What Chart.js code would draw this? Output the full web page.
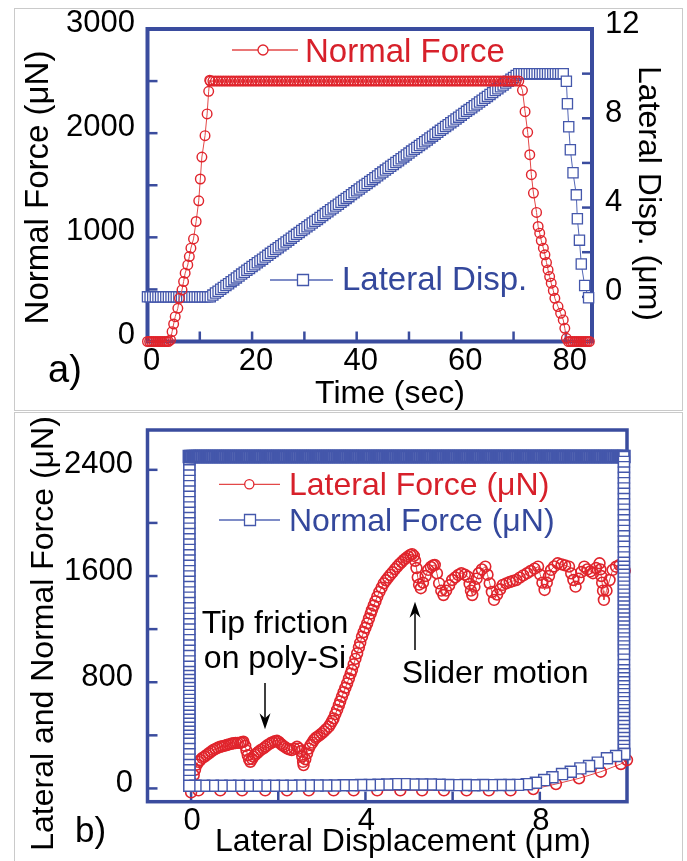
<!DOCTYPE html>
<html><head><meta charset="utf-8">
<script src="https://cdn.jsdelivr.net/npm/chart.js@4.4.1/dist/chart.umd.min.js"></script>
<style>
html,body{margin:0;padding:0;background:#fff;}
body{width:687px;height:861px;position:relative;overflow:hidden;}
.box{position:absolute;border:1.5px solid #cacaca;box-sizing:border-box;}
canvas{position:absolute;left:0;}
</style></head><body>
<div class="box" style="left:14px;top:8px;width:669px;height:403px"></div>
<div class="box" style="left:14px;top:412px;width:669px;height:460px"></div>
<canvas id="ca" width="687" height="411" style="top:0"></canvas>
<canvas id="cb" width="687" height="450" style="top:411px"></canvas>
<script>
// ---------------- Panel a data ----------------
const aXTicks = [0,10,20,30,40,50,60,70,80];
const aXLabels = [0,20,40,60,80];
const aYTicks = [0,500,1000,1500,2000,2500,3000];
const aYLabels = [0,1000,2000,3000];
const aY2Ticks = [0,2,4,6,8,10,12];
const aY2Labels = [0,4,8,12];

const aNfRiseTime = [0,0.4,0.8,1.2,1.6,2.0,2.4,2.8,3.2,3.6,4.0,4.4,4.7,5.0,5.3,5.8,6.1,6.6,6.9,7.2,7.7,8.0,8.3,8.8,9.3,9.8,10.1,10.4,11.0,11.4,11.7,11.9];
const aNfRiseForce = [0,0,0,0,0,0,0,0,0,0,0,15,94,168,238,319,415,495,575,656,735,815,896,985,1152,1351,1560,1771,1976,2185,2402,2508];
const aHoldTime = [12,12.5,13,13.5,14,14.5,15,15.5,16,16.5,17,17.5,18,18.5,19,19.5,20,20.5,21,21.5,22,22.5,23,23.5,24,24.5,25,25.5,26,26.5,27,27.5,28,28.5,29,29.5,30,30.5,31,31.5,32,32.5,33,33.5,34,34.5,35,35.5,36,36.5,37,37.5,38,38.5,39,39.5,40,40.5,41,41.5,42,42.5,43,43.5,44,44.5,45,45.5,46,46.5,47,47.5,48,48.5,49,49.5,50,50.5,51,51.5,52,52.5,53,53.5,54,54.5,55,55.5,56,56.5,57,57.5,58,58.5,59,59.5,60,60.5,61,61.5,62,62.5,63,63.5,64,64.5,65,65.5,66,66.5,67,67.5,68,68.5,69,69.5,70,70.5,71];
const aNfHoldForce = 2500;
const aNfFallTime = [71.7,72.2,72.7,73.1,73.4,73.8,74.4,74.7,75.0,75.3,75.7,76.0,76.3,76.6,76.9,77.2,77.6,77.9,78.5,79.0,79.5,79.8,80.1,80.5,80.9,81.3,81.7,82.1,82.5,82.9,83.3,83.7,84.1,84.5];
const aNfFallForce = [2411,2206,2008,1793,1601,1425,1239,1104,1040,969,896,832,758,687,623,560,489,415,335,271,207,127,31,0,0,0,0,0,0,0,0,0,0,0];

const aLdFlatTime = [0,0.5,1,1.5,2,2.5,3,3.5,4,4.5,5,5.5,6,6.5,7,7.5,8,8.5,9,9.5,10,10.5,11,11.5];
const aLdFlatDisp = 0;
const aLdRampDisp = [0,0.08,0.17,0.25,0.34,0.42,0.51,0.59,0.68,0.76,0.85,0.93,1.02,1.1,1.19,1.27,1.36,1.44,1.53,1.61,1.69,1.78,1.86,1.95,2.03,2.12,2.2,2.29,2.37,2.46,2.54,2.63,2.71,2.8,2.88,2.97,3.05,3.14,3.22,3.31,3.39,3.47,3.56,3.64,3.73,3.81,3.9,3.98,4.07,4.15,4.24,4.32,4.41,4.49,4.58,4.66,4.75,4.83,4.92,5,5.08,5.17,5.25,5.34,5.42,5.51,5.59,5.68,5.76,5.85,5.93,6.02,6.1,6.19,6.27,6.36,6.44,6.53,6.61,6.69,6.78,6.86,6.95,7.03,7.12,7.2,7.29,7.37,7.46,7.54,7.63,7.71,7.8,7.88,7.97,8.05,8.14,8.22,8.31,8.39,8.47,8.56,8.64,8.73,8.81,8.9,8.98,9.07,9.15,9.24,9.32,9.41,9.49,9.58,9.66,9.75,9.83,9.92,10];
const aLdTopTime = [71.5,72,72.5,73,73.5,74,74.5,75,75.5,76,76.5,77,77.5,78,78.5,79,79.5];
const aLdTopDisp = 10;
const aLdDropTime = [80.1,80.3,80.55,80.86,81.37,82.0,82.2,82.6,82.95,83.6,84.35];
const aLdDropDisp = [9.66,8.65,7.62,6.59,5.56,4.57,3.5,2.54,1.47,0.51,-0.04];

// ---------------- Panel b data ----------------
const bXTicks = [0,2,4,6,8];
const bXLabels = [0,4,8];
const bYTicks = [0,400,800,1200,1600,2000,2400];
const bYLabels = [0,800,1600,2400];

// Lateral force (red): initial friction, loading ramp, slider stick-slip, return
const bLfX1 = [0.00,0.03,0.06,0.09,0.13,0.17,0.21,0.26,0.31,0.36,0.41,0.46,0.51,0.56,0.61,0.67,0.72,0.77,0.82,0.87,0.92,0.97,1.02,1.07,1.13,1.17,1.20,1.24,1.27,1.30,1.33,1.36,1.40,1.43,1.47,1.51,1.55,1.60,1.66,1.71,1.76,1.82,1.87,1.92,1.97,2.01,2.05,2.09,2.14,2.20,2.25,2.31,2.37,2.43,2.48,2.52,2.55,2.57,2.58,2.62,2.66,2.70];
const bLfF1 = [-30,40,100,140,180,200,214,230,240,252,265,278,289,298,306,314,318,322,327,332,336,340,342,343,344,348,352,320,285,250,220,201,222,239,252,265,277,290,302,315,328,340,348,355,359,350,338,327,315,302,295,289,300,314,300,280,240,200,176,220,264,300];
const bLfX2 = [2.74,2.78,2.82,2.86,2.90,2.95,3.00,3.05,3.10,3.16,3.20,3.24,3.27,3.31,3.35,3.39,3.42,3.46,3.50,3.54,3.58,3.62,3.66,3.69,3.73,3.77,3.81,3.85,3.88,3.92,3.96,4.00,4.04,4.08,4.12,4.15,4.19,4.23,4.27,4.32,4.37,4.42,4.47,4.52,4.57,4.62,4.68,4.73,4.78,4.83,4.88,4.93,4.98,5.03,5.07,5.11,5.14,5.17,5.20,5.23];
const bLfF2 = [327,345,365,380,390,402,415,430,446,465,487,508,528,560,591,627,655,691,725,758,792,828,865,892,935,976,1018,1063,1097,1143,1178,1210,1244,1280,1317,1344,1378,1410,1444,1480,1512,1545,1568,1588,1608,1628,1652,1671,1689,1705,1721,1734,1748,1759,1765,1752,1715,1660,1590,1535];
const bLfX3 = [5.27,5.32,5.38,5.44,5.50,5.55,5.59,5.64,5.69,5.74,5.79,5.85,5.92,5.99,6.06,6.13,6.20,6.28,6.35,6.39,6.42,6.45,6.50,6.55,6.60,6.67,6.75,6.80,6.85,6.90,6.95,7.02,7.09,7.15,7.23,7.31,7.38,7.46,7.54,7.62,7.71,7.79,7.88,7.96,8.01,8.06,8.11,8.16,8.21,8.26,8.33,8.41,8.50,8.58,8.67,8.72,8.77,8.82,8.89,8.95,9.02,9.09,9.16,9.22,9.29,9.37,9.39,9.41,9.43,9.45,9.47,9.53,9.60,9.67,9.75,9.83,9.90,9.95];
const bLfF3 = [1508,1550,1600,1646,1668,1680,1683,1620,1545,1490,1457,1490,1530,1570,1590,1608,1621,1610,1595,1540,1490,1457,1520,1580,1621,1650,1671,1610,1545,1480,1420,1460,1500,1533,1545,1555,1562,1570,1588,1605,1621,1638,1655,1671,1610,1550,1495,1550,1600,1646,1672,1696,1688,1680,1671,1620,1570,1520,1580,1630,1671,1650,1635,1621,1660,1696,1650,1600,1550,1490,1420,1490,1570,1646,1670,1683,1660,1640];
const bLfX4 = [10.0,9.86,9.40,8.90,8.37,7.85,7.33,6.83,6.32,5.80,5.30,4.80,4.27,3.73,3.27,2.70,2.20,1.70,1.17,0.67,0.17];
const bLfF4 = [214,184,126,76,33,-5,-15,-15,-15,-15,-15,-15,-15,-15,-15,-15,-15,-15,-15,-15,-15];

// Normal force (blue): loading at x=0, hold while sliding, unloading at x=10, return
const bNfUpX = -0.04;
const bNfUpF = [20,60,100,140,180,220,260,300,340,380,420,450,480,510,540,570,600,630,660,690,720,750,780,810,840,870,900,930,960,1000,1040,1080,1120,1160,1200,1240,1280,1320,1360,1400,1440,1480,1520,1560,1600,1640,1680,1720,1760,1800,1840,1880,1920,1960,2000,2040,2080,2120,2160,2200,2240,2280,2320,2360,2400,2440,2480,2500];
const bNfHoldF = 2500;
const bNfHoldX = [0,0.05,0.1,0.15,0.2,0.25,0.3,0.35,0.4,0.45,0.5,0.55,0.6,0.65,0.7,0.75,0.8,0.85,0.9,0.95,
1,1.05,1.1,1.15,1.2,1.25,1.3,1.35,1.4,1.45,1.5,1.55,1.6,1.65,1.7,1.75,1.8,1.85,1.9,1.95,
2,2.05,2.1,2.15,2.2,2.25,2.3,2.35,2.4,2.45,2.5,2.55,2.6,2.65,2.7,2.75,2.8,2.85,2.9,2.95,
3,3.05,3.1,3.15,3.2,3.25,3.3,3.35,3.4,3.45,3.5,3.55,3.6,3.65,3.7,3.75,3.8,3.85,3.9,3.95,
4,4.05,4.1,4.15,4.2,4.25,4.3,4.35,4.4,4.45,4.5,4.55,4.6,4.65,4.7,4.75,4.8,4.85,4.9,4.95,
5,5.05,5.1,5.15,5.2,5.25,5.3,5.35,5.4,5.45,5.5,5.55,5.6,5.65,5.7,5.75,5.8,5.85,5.9,5.95,
6,6.05,6.1,6.15,6.2,6.25,6.3,6.35,6.4,6.45,6.5,6.55,6.6,6.65,6.7,6.75,6.8,6.85,6.9,6.95,
7,7.05,7.1,7.15,7.2,7.25,7.3,7.35,7.4,7.45,7.5,7.55,7.6,7.65,7.7,7.75,7.8,7.85,7.9,7.95,
8,8.05,8.1,8.15,8.2,8.25,8.3,8.35,8.4,8.45,8.5,8.55,8.6,8.65,8.7,8.75,8.8,8.85,8.9,8.95,
9,9.05,9.1,9.15,9.2,9.25,9.3,9.35,9.4,9.45,9.5,9.55,9.6,9.65,9.7,9.75,9.8,9.85,9.9];
const bNfDownX = 9.93;
const bNfDownF = [2500,2460,2420,2380,2340,2300,2260,2220,2180,2140,2100,2060,2020,1980,1940,1900,1860,1820,1780,1740,1700,1670,1640,1610,1580,1550,1520,1490,1460,1430,1400,1370,1340,1310,1280,1250,1220,1190,1160,1130,1100,1070,1040,1010,970,930,890,860,830,800,770,740,710,680,650,620,590,560,530,500,470,440,410,380,350,320,290,260];
const bNfBackX = [9.94,9.75,9.54,9.33,9.13,8.93,8.71,8.51,8.29,8.10,7.91,7.70,7.50,7.30,7.10,6.90,6.70,6.50,6.30,6.10,5.90,5.70,5.50,5.30,5.10,4.90,4.70,4.50,4.30,4.10,3.90,3.70,3.50,3.30,3.10,2.90,2.70,2.50,2.30,2.10,1.90,1.70,1.50,1.30,1.10,0.90,0.70,0.50,0.30,0.10,-0.04];
const bNfBackF = [259,244,227,194,169,151,126,108,84,63,43,32,27,26,26,25,26,24,26,25,26,28,30,30,30,32,32,30,28,26,26,24,24,22,22,22,22,22,20,20,20,20,20,20,20,20,20,20,20,20,20];

// ---------------- styling ----------------
const FONT = '"Liberation Sans", Arial, Helvetica, sans-serif';
const FRAME = '#3a4c9e';
const RED = '#e0242c';
const RED_LINE = '#e34848';
const RED_TXT = '#d7202a';
const BLUE = '#4457ab';
const BLUE_LINE = '#5366b5';
const BLUE_TXT = '#34489c';

function pts(xs, ys) {
  const n = Array.isArray(xs) ? xs.length : ys.length;
  const out = [];
  for (let i = 0; i < n; i++) {
    out.push({ x: Array.isArray(xs) ? xs[i] : xs, y: Array.isArray(ys) ? ys[i] : ys });
  }
  return out;
}

function text(ctx, s, x, y, o) {
  ctx.save();
  ctx.font = o.size + 'px ' + FONT;
  ctx.fillStyle = o.color || '#000';
  ctx.textAlign = o.align || 'left';
  ctx.textBaseline = 'alphabetic';
  ctx.translate(x, y);
  if (o.rot) ctx.rotate(o.rot * Math.PI / 180);
  ctx.fillText(s, 0, 0);
  ctx.restore();
}
function hline(ctx, x1, x2, y, color, w) {
  ctx.save(); ctx.strokeStyle = color; ctx.lineWidth = w;
  ctx.beginPath(); ctx.moveTo(x1, y); ctx.lineTo(x2, y); ctx.stroke(); ctx.restore();
}
function circle(ctx, x, y, r, color, w) {
  ctx.save(); ctx.strokeStyle = color; ctx.lineWidth = w; ctx.fillStyle = '#fff';
  ctx.beginPath(); ctx.arc(x, y, r, 0, Math.PI * 2); ctx.fill(); ctx.stroke(); ctx.restore();
}
function square(ctx, x, y, side, color, w) {
  ctx.save(); ctx.strokeStyle = color; ctx.lineWidth = w; ctx.fillStyle = '#fff';
  ctx.beginPath(); ctx.rect(x - side / 2, y - side / 2, side, side); ctx.fill(); ctx.stroke(); ctx.restore();
}
function arrow(ctx, x, yFrom, yTip) {
  const dir = yTip > yFrom ? 1 : -1;
  ctx.save(); ctx.strokeStyle = '#000'; ctx.fillStyle = '#000'; ctx.lineWidth = 1.5;
  ctx.beginPath(); ctx.moveTo(x, yFrom); ctx.lineTo(x, yTip - dir * 8); ctx.stroke();
  ctx.beginPath(); ctx.moveTo(x, yTip); ctx.lineTo(x - 5.5, yTip - dir * 16); ctx.lineTo(x, yTip - dir * 11); ctx.lineTo(x + 5.5, yTip - dir * 16); ctx.closePath(); ctx.fill();
  ctx.restore();
}

function decor(name, tickAxes, frameWidth, draw) {
  return {
    id: 'decor' + name,
    beforeDatasetsDraw(chart) {
      const ctx = chart.ctx, a = chart.chartArea;
      ctx.save();
      ctx.strokeStyle = FRAME;
      ctx.lineWidth = 2.5;
      tickAxes.forEach(([id, side]) => {
        const s = chart.scales[id];
        s.ticks.forEach(t => {
          const v = t.value;
          if (v <= s.min || v >= s.max) return;
          const p = s.getPixelForValue(v);
          ctx.beginPath();
          if (side === 'left') { ctx.moveTo(a.left, p); ctx.lineTo(a.left + 10, p); }
          else if (side === 'right') { ctx.moveTo(a.right, p); ctx.lineTo(a.right - 10, p); }
          else { ctx.moveTo(p, a.bottom); ctx.lineTo(p, a.bottom - 10); }
          ctx.stroke();
        });
      });
      ctx.lineWidth = frameWidth;
      ctx.strokeRect(a.left, a.top, a.right - a.left, a.bottom - a.top);
      ctx.restore();
    },
    afterDraw(chart) { draw(chart.ctx); }
  };
}

function axis(opts) {
  return {
    type: 'linear', position: opts.position, min: opts.min, max: opts.max,
    grid: { display: false, drawTicks: false }, border: { display: false },
    afterBuildTicks: s => { s.ticks = opts.ticks.map(v => ({ value: v })); },
    afterFit: s => {
      if (opts.width !== undefined) s.width = opts.width;
      if (opts.height !== undefined) s.height = opts.height;
      s.paddingTop = 0; s.paddingBottom = 0; s.paddingLeft = 0; s.paddingRight = 0;
    },
    ticks: {
      autoSkip: false, maxRotation: 0, minRotation: 0,
      padding: opts.padding, labelOffset: opts.labelOffset,
      color: '#000', font: { family: FONT, size: 31 },
      callback: v => opts.labels.includes(v) ? String(v) : ''
    }
  };
}

// ---------------- Panel a chart ----------------
const aRed = pts(aNfRiseTime, aNfRiseForce).concat(pts(aHoldTime, aNfHoldForce), pts(aNfFallTime, aNfFallForce));
const aBlue = pts(aLdFlatTime, aLdFlatDisp).concat(pts(aHoldTime, aLdRampDisp), pts(aLdTopTime, aLdTopDisp), pts(aLdDropTime, aLdDropDisp));

new Chart(document.getElementById('ca'), {
  type: 'line',
  data: { datasets: [
    { label: 'Normal Force', data: aRed, yAxisID: 'y', borderColor: RED_LINE, borderWidth: 1,
      pointStyle: 'circle', pointRadius: 4.8, pointBorderWidth: 1.4, pointBorderColor: RED,
      pointBackgroundColor: 'rgba(255,255,255,0)', tension: 0, clip: false, order: 0 },
    { label: 'Lateral Disp.', data: aBlue, yAxisID: 'y2', borderColor: BLUE_LINE, borderWidth: 1,
      pointStyle: 'rect', pointRadius: 7.2, pointBorderWidth: 1.3, pointBorderColor: BLUE,
      pointBackgroundColor: '#fff', tension: 0, clip: false, order: 1 }
  ]},
  options: {
    responsive: false, animation: false, devicePixelRatio: 1, events: [],
    layout: { padding: { top: 29, left: 0, right: 0, bottom: 0 } },
    plugins: { legend: { display: false }, tooltip: { enabled: false } },
    scales: {
      x: axis({ position: 'bottom', min: 0, max: 85, ticks: aXTicks, labels: aXLabels, height: 69.5, padding: 1, labelOffset: 4 }),
      y: axis({ position: 'left', min: 0, max: 3000, ticks: aYTicks, labels: aYLabels, width: 147.5, padding: 12.5, labelOffset: -6 }),
      y2: axis({ position: 'right', min: -2, max: 12, ticks: aY2Ticks, labels: aY2Labels, width: 95, padding: 13, labelOffset: -5 })
    }
  },
  plugins: [decor('A', [['x', 'bottom'], ['y', 'left'], ['y2', 'right']], 4, ctx => {
    hline(ctx, 232, 298, 50, RED_LINE, 1.4);
    circle(ctx, 263, 50, 5, RED, 1.3);
    text(ctx, 'Normal Force', 305, 62, { size: 33, color: RED_TXT });
    hline(ctx, 270, 333, 280, BLUE_LINE, 1.4);
    square(ctx, 303, 280, 11, BLUE, 1.3);
    text(ctx, 'Lateral Disp.', 342, 290, { size: 33, color: BLUE_TXT });
    text(ctx, 'Time (sec)', 390, 403, { size: 32, align: 'center' });
    text(ctx, 'a)', 48, 382, { size: 38 });
    text(ctx, 'Normal Force (μN)', 48, 187.5, { size: 33, align: 'center', rot: -90 });
    text(ctx, 'Lateral Disp. (μm)', 639, 193.5, { size: 32, align: 'center', rot: 90 });
  })]
});

// ---------------- Panel b chart ----------------
const bRed = pts(bLfX1, bLfF1).concat(pts(bLfX2, bLfF2), pts(bLfX3, bLfF3), pts(bLfX4, bLfF4));
const bBlue = pts(bNfUpX, bNfUpF).concat(pts(bNfHoldX, bNfHoldF), pts(bNfDownX, bNfDownF), pts(bNfBackX, bNfBackF));

new Chart(document.getElementById('cb'), {
  type: 'line',
  data: { datasets: [
    { label: 'Normal Force (μN)', data: bBlue, borderColor: BLUE_LINE, borderWidth: 1,
      pointStyle: 'rect', pointRadius: 7.8, pointBorderColor: BLUE,
      pointBorderWidth: c => (c.raw && c.raw.y === bNfHoldF) ? 2.6 : 1.4,
      pointBackgroundColor: '#fff', tension: 0, clip: false, order: 0 },
    { label: 'Lateral Force (μN)', data: bRed, borderColor: RED_LINE, borderWidth: 1,
      pointStyle: 'circle', pointRadius: 5.4, pointBorderWidth: 1.6, pointBorderColor: RED,
      pointBackgroundColor: 'rgba(255,255,255,0)', tension: 0, clip: false, order: 1 }
  ]},
  options: {
    responsive: false, animation: false, devicePixelRatio: 1, events: [],
    layout: { padding: { top: 19, left: 0, right: 60, bottom: 0 } },
    plugins: { legend: { display: false }, tooltip: { enabled: false } },
    scales: {
      x: axis({ position: 'bottom', min: -1, max: 10, ticks: bXTicks, labels: bXLabels, height: 59.3, padding: 1, labelOffset: 1 }),
      y: axis({ position: 'left', min: -100, max: 2700, ticks: bYTicks, labels: bYLabels, width: 147.5, padding: 14.5, labelOffset: -5 })
    }
  },
  plugins: [decor('B', [['x', 'bottom'], ['y', 'left']], 3.5, ctx => {
    hline(ctx, 219, 280, 73.3, RED_LINE, 1.3);
    circle(ctx, 249.3, 73.3, 4.6, RED, 1.3);
    text(ctx, 'Lateral Force (μN)', 289, 84, { size: 32, color: RED_TXT });
    hline(ctx, 219, 280, 109, BLUE_LINE, 1.3);
    square(ctx, 250, 109, 11, BLUE, 1.3);
    text(ctx, 'Normal Force (μN)', 289, 119.7, { size: 32, color: BLUE_TXT });
    text(ctx, 'Tip friction', 275, 222, { size: 32, align: 'center' });
    text(ctx, 'on poly-Si', 275, 257, { size: 32, align: 'center' });
    arrow(ctx, 265, 272, 318.3);
    text(ctx, 'Slider motion', 401.7, 272.3, { size: 32 });
    arrow(ctx, 415, 239, 190.7);
    text(ctx, 'b)', 75, 431, { size: 35 });
    text(ctx, 'Lateral Displacement (μm)', 403, 440, { size: 32, align: 'center' });
    text(ctx, 'Lateral and Normal Force (μN)', 53, 222.5, { size: 32, align: 'center', rot: -90 });
  })]
});
</script></body></html>
